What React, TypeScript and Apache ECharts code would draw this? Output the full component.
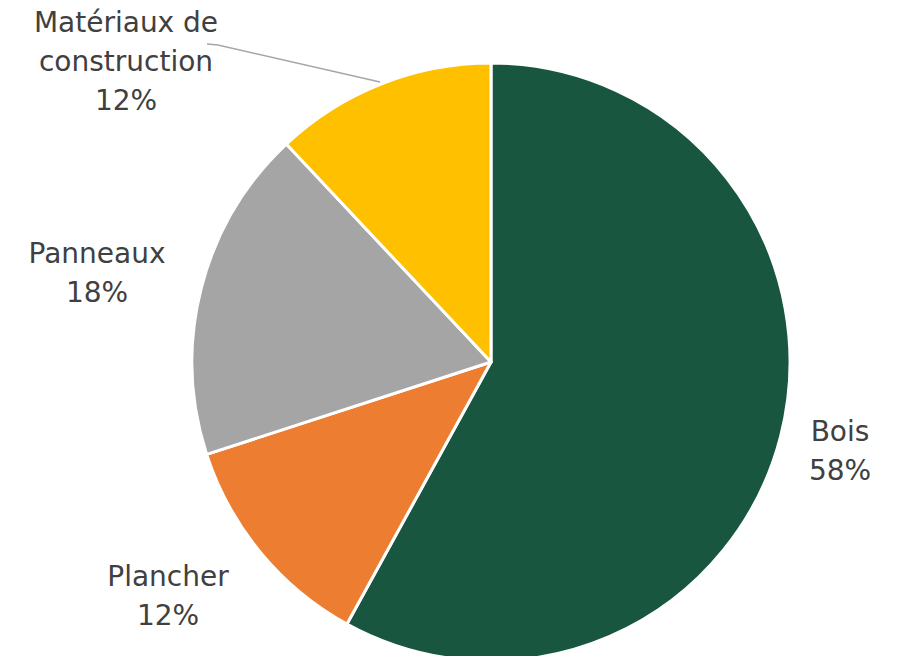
import React, { useEffect, useRef } from "react";
import * as echarts from "echarts";

const categories = ["Bois", "Plancher", "Panneaux", "Matériaux de\nconstruction"];
const values = [58, 12, 18, 12];
const colors = ["#185640", "#ED7D31", "#A5A5A5", "#FFC000"];
const labelSpots = [
  [840, 451],
  [168, 596],
  [97, 273],
  [126, 61],
];

export default function App() {
  const ref = useRef<HTMLDivElement>(null);
  useEffect(() => {
    document.body.style.margin = "0";
    const chart = echarts.init(ref.current!, null, { renderer: "svg" });
    chart.setOption({
      animation: false,
      backgroundColor: "#ffffff",
      graphic: [
        {
          type: "polyline",
          shape: { points: [[207, 44], [218, 45], [380, 82]] },
          style: { stroke: "#A6A6A6", lineWidth: 1.5, fill: "none" },
          z: 10,
        },
      ],
      series: [
        {
          type: "pie",
          center: [491, 362],
          radius: [0, 299],
          startAngle: 90,
          clockwise: true,
          data: categories.map((c, i) => ({
            name: c,
            value: values[i],
            itemStyle: { color: colors[i] },
          })),
          itemStyle: { borderColor: "#ffffff", borderWidth: 3 },
          label: {
            show: true,
            position: "outside",
            formatter: (p: any) => `${p.name}\n${p.value}%`,
            color: "#404040",
            fontFamily: "DejaVu Sans",
            fontSize: 28,
            lineHeight: 39,
            align: "center",
            overflow: "none",
            edgeDistance: 0,
          },
          labelLine: { show: false },
          labelLayout: (p: any) => ({
            x: labelSpots[p.dataIndex][0],
            y: labelSpots[p.dataIndex][1],
            align: "center",
            verticalAlign: "middle",
          }),
        },
      ],
    });
    return () => chart.dispose();
  }, []);
  return <div ref={ref} style={{ width: 897, height: 656 }} />;
}
